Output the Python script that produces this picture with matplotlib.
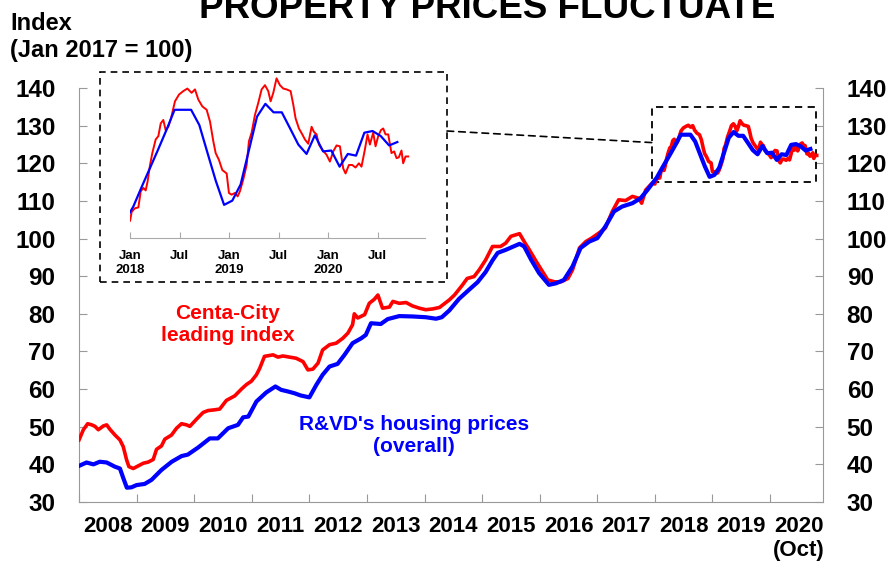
import matplotlib.pyplot as plt
from matplotlib.patches import Rectangle, ConnectionPatch

plt.rcParams['font.family'] = ['Liberation Sans', 'DejaVu Sans']
plt.rcParams['font.weight'] = 'bold'

# Centa-City leading index (weekly)
red_t = [2008.000, 2008.075, 2008.150, 2008.220, 2008.277, 2008.335, 2008.422, 2008.480,
         2008.537, 2008.624, 2008.710, 2008.768, 2008.826, 2008.866, 2008.941, 2009.028,
         2009.115, 2009.200, 2009.288, 2009.346, 2009.432, 2009.490, 2009.606, 2009.693,
         2009.779, 2009.866, 2009.924, 2010.040, 2010.155, 2010.241, 2010.357, 2010.443,
         2010.559, 2010.704, 2010.820, 2010.906, 2010.993, 2011.080, 2011.137, 2011.220,
         2011.370, 2011.455, 2011.540, 2011.660, 2011.770, 2011.890, 2011.975, 2012.060,
         2012.150, 2012.230, 2012.350, 2012.465, 2012.580, 2012.670, 2012.750, 2012.780,
         2012.840, 2012.960, 2013.040, 2013.130, 2013.190, 2013.270, 2013.390, 2013.450,
         2013.560, 2013.680, 2013.790, 2013.910, 2014.020, 2014.140, 2014.260, 2014.430,
         2014.520, 2014.660, 2014.740, 2014.860, 2014.950, 2015.060, 2015.180, 2015.320,
         2015.410, 2015.500, 2015.650, 2015.730, 2015.820, 2015.940, 2016.050, 2016.140,
         2016.260, 2016.370, 2016.490, 2016.570, 2016.690, 2016.800, 2016.910, 2017.030,
         2017.140, 2017.260, 2017.370, 2017.490, 2017.610, 2017.720, 2017.770, 2017.840,
         2017.950,
         2018.000, 2018.017, 2018.050, 2018.084, 2018.108, 2018.135, 2018.158, 2018.178,
         2018.202, 2018.225, 2018.259, 2018.286, 2018.310, 2018.336, 2018.360, 2018.387,
         2018.414, 2018.454, 2018.495, 2018.538, 2018.579, 2018.622, 2018.656, 2018.690,
         2018.730, 2018.774, 2018.808, 2018.841, 2018.865, 2018.898, 2018.932, 2018.976,
         2018.999, 2019.026, 2019.060, 2019.087, 2019.110, 2019.144, 2019.178, 2019.201,
         2019.228, 2019.262, 2019.295, 2019.329, 2019.363, 2019.396, 2019.420, 2019.447,
         2019.480, 2019.514, 2019.548, 2019.581, 2019.622, 2019.649, 2019.672, 2019.706,
         2019.740, 2019.767, 2019.800, 2019.834, 2019.857, 2019.884, 2019.908, 2019.941,
         2019.985, 2020.019, 2020.053, 2020.086, 2020.120, 2020.153, 2020.177, 2020.211,
         2020.244, 2020.278, 2020.312, 2020.338, 2020.372, 2020.399, 2020.423, 2020.456,
         2020.480, 2020.507, 2020.534, 2020.557, 2020.581, 2020.608, 2020.641, 2020.668,
         2020.692, 2020.715, 2020.742, 2020.759, 2020.783, 2020.810]
red_v = [46.5, 49.2, 50.8, 50.5, 50.1, 49.2, 50.2, 50.5,
         49.3, 47.8, 46.5, 44.7, 41.2, 39.4, 38.9, 39.6,
         40.3, 40.6, 41.3, 44.0, 44.9, 46.7, 47.8, 49.6,
         50.8, 50.5, 50.1, 52.0, 53.8, 54.3, 54.5, 54.7,
         57.0, 58.2, 60.0, 61.2, 62.1, 63.8, 65.5, 68.7,
         69.1, 68.5, 68.8, 68.5, 68.2, 67.3, 65.1, 65.3,
         66.9, 70.4, 71.8, 72.2, 73.5, 74.9, 77.1, 80.0,
         78.9, 79.8, 82.8, 83.9, 85.0, 81.5, 81.8, 83.3,
         82.8, 83.0, 82.1, 81.5, 81.1, 81.3, 81.7, 83.7,
         85.0, 87.7, 89.4, 89.9, 91.7, 94.3, 97.9, 97.9,
         98.8, 100.6, 101.3, 99.2, 97.0, 93.9, 91.2, 89.0,
         88.5, 88.5, 89.4, 91.7, 97.5, 99.2, 100.2, 101.5,
         102.8, 107.2, 110.3, 110.1, 111.2, 110.7, 109.4, 112.9,
         114.7,
         114.5, 115.6, 116.0, 116.1, 118.0, 118.4, 118.1, 119.2,
         121.1, 122.5, 124.1, 124.5, 126.0, 126.4, 125.2, 125.6,
         126.6, 128.6, 129.4, 129.8, 130.1, 129.6, 130.0, 128.8,
         128.0, 127.6, 126.2, 123.9, 122.5, 121.7, 120.5, 120.1,
         117.8, 117.6, 117.8, 117.4, 118.0, 119.4, 121.1, 123.9,
         124.9, 127.0, 128.4, 130.0, 130.5, 129.8, 128.6, 129.6,
         131.3, 130.5, 130.1, 130.0, 129.8, 128.2, 126.6, 125.4,
         124.7, 124.1, 123.6, 125.6, 125.0, 124.7, 123.5, 122.9,
         122.3, 121.5, 122.7, 123.4, 123.3, 120.7, 120.1, 121.1,
         121.1, 120.8, 121.3, 120.9, 122.9, 124.7, 123.5, 124.9,
         123.3, 124.5, 125.2, 125.4, 124.7, 124.7, 122.5, 122.7,
         121.9, 122.0, 122.8, 121.3, 122.1, 122.1]

# R&VD housing prices, overall (monthly)
blue_t = [2008.00, 2008.13, 2008.25, 2008.36, 2008.48, 2008.62, 2008.71, 2008.77,
          2008.83, 2008.91, 2009.00, 2009.14, 2009.26, 2009.43, 2009.61, 2009.78,
          2009.89, 2010.07, 2010.27, 2010.41, 2010.59, 2010.76, 2010.85, 2010.94,
          2011.08, 2011.25, 2011.41, 2011.51, 2011.62, 2011.74, 2011.85, 2012.00,
          2012.12, 2012.23, 2012.35, 2012.49, 2012.61, 2012.75, 2012.90, 2012.98,
          2013.07, 2013.24, 2013.36, 2013.56, 2013.79, 2014.02, 2014.20, 2014.30,
          2014.43, 2014.60, 2014.78, 2014.92, 2015.06, 2015.18, 2015.27, 2015.41,
          2015.65, 2015.73, 2015.85, 2015.99, 2016.16, 2016.28, 2016.42, 2016.57,
          2016.71, 2016.86, 2017.00, 2017.14, 2017.29, 2017.43, 2017.61, 2017.75,
          2017.87,
          2018.033, 2018.117, 2018.200, 2018.283, 2018.367, 2018.450, 2018.533, 2018.617,
          2018.700, 2018.783, 2018.867, 2018.950, 2019.033, 2019.117, 2019.200, 2019.283,
          2019.367, 2019.450, 2019.533, 2019.617, 2019.700, 2019.783, 2019.867, 2019.950,
          2020.033, 2020.117, 2020.200, 2020.283, 2020.367, 2020.450, 2020.533, 2020.617,
          2020.700]
blue_v = [39.6, 40.5, 40.0, 40.7, 40.5, 39.4, 38.9, 36.3,
          33.8, 33.9, 34.5, 34.8, 35.9, 38.5, 40.7, 42.2,
          42.6, 44.5, 46.9, 46.9, 49.6, 50.5, 52.5, 52.7,
          56.7, 59.1, 60.7, 59.8, 59.4, 58.9, 58.3, 57.8,
          61.1, 63.8, 66.0, 66.7, 69.1, 72.2, 73.5, 74.4,
          77.5, 77.3, 78.6, 79.4, 79.3, 79.1, 78.7, 79.1,
          80.9, 84.0, 86.5, 88.4, 91.1, 94.2, 96.2, 97.0,
          98.6, 97.9, 94.4, 90.8, 87.7, 88.1, 89.0, 92.6,
          97.5, 99.2, 100.1, 103.2, 107.2, 108.5, 109.4, 110.7,
          112.9,
          116.2, 118.5, 120.7, 122.9, 125.2, 127.6, 127.6, 127.6,
          125.8, 122.5, 119.2, 116.4, 116.9, 118.8, 122.8, 126.8,
          128.3, 127.3, 127.3, 125.4, 123.5, 122.4, 124.6, 122.7,
          122.8, 120.9, 122.4, 122.2, 124.9, 125.1, 124.5, 123.4,
          123.8]

years = list(range(2008, 2021))
year_labels = [str(y) for y in years[:-1]] + ['2020\n(Oct)']
inset_ticks = [2018.0, 2018.5, 2019.0, 2019.5, 2020.0, 2020.5]
inset_labels = ['Jan\n2018', 'Jul', 'Jan\n2019', 'Jul', 'Jan\n2020', 'Jul']

fig = plt.figure(figsize=(8.87, 5.65), dpi=100)
ax = fig.add_axes([0.0891, 0.1115, 0.8388, 0.7327])

ax.plot(red_t, red_v, color='#ff0000', lw=2.6, zorder=3)
ax.plot(blue_t, blue_v, color='#0000ff', lw=3.0, zorder=4)
ax.set_xlim(2008, 2020.92)
ax.set_ylim(30, 140)

ax.set_yticks(range(30, 141, 10))
ax.tick_params(axis='y', direction='in', length=6, color='#999999',
               labelsize=17.5, pad=17, right=True, labelright=True)
for lab in ax.get_yticklabels():
    lab.set_fontweight('bold')

ax.set_xticks(years)
ax.set_xticklabels([])
ax.set_xticks([y + 0.5 for y in years], minor=True)
ax.set_xticklabels(year_labels, minor=True, fontsize=16, fontweight='bold')
ax.tick_params(axis='x', which='major', direction='in', length=6, color='#999999')
ax.tick_params(axis='x', which='minor', length=0, pad=10)

for s in ['left', 'right', 'bottom']:
    ax.spines[s].set_color('#999999')
ax.spines['top'].set_visible(False)

# dashed box around 2018-2020 on the main chart
ax.add_patch(Rectangle((2017.95, 115), 2.84, 20, fill=False, ls=(0, (4, 3)),
                       lw=1.3, color='black', zorder=2))

ax.text(2010.58, 77.1, 'Centa-City\nleading index', color='#ff0000', fontsize=15,
        fontweight='bold', ha='center', va='center', multialignment='center')
ax.text(2013.82, 47.8, "R&VD's housing prices\n(overall)", color='#0000ff', fontsize=15,
        fontweight='bold', ha='center', va='center', multialignment='center')

# inset
ax2 = fig.add_axes([0.1466, 0.5788, 0.3326, 0.2885])
ax2.plot(red_t, red_v, color='#ff0000', lw=1.4)
ax2.plot(blue_t, blue_v, color='#0000ff', lw=1.6)
ax2.set_xlim(2018.0, 2020.98)
ax2.set_ylim(112.5, 131.7)
ax2.set_yticks([])
for s in ['left', 'right', 'top']:
    ax2.spines[s].set_visible(False)
ax2.spines['bottom'].set_color('#aaaaaa')
ax2.set_xticks(inset_ticks)
ax2.set_xticklabels(inset_labels, fontsize=9.5, fontweight='bold', va='top')
ax2.tick_params(axis='x', direction='in', length=4, color='#aaaaaa', pad=9)

fig.add_artist(Rectangle((100 / 887, 1 - 282 / 565), 347 / 887, 210 / 565,
                         transform=fig.transFigure, fill=False, ls=(0, (4, 3)),
                         lw=1.2, color='black'))
fig.add_artist(ConnectionPatch(xyA=(447 / 887, 1 - 131 / 565), coordsA=fig.transFigure,
                               xyB=(2017.95, 125.5), coordsB=ax.transData,
                               ls=(0, (4, 3)), lw=1.2, color='black'))

fig.text(0.549, 1 - 18 / 565, 'PROPERTY PRICES FLUCTUATE', ha='center', va='baseline',
         fontsize=26.5, fontweight='bold')
fig.text(10 / 887, 1 - 30 / 565, 'Index', ha='left', va='baseline', fontsize=17,
         fontweight='bold')
fig.text(10 / 887, 1 - 57 / 565, '(Jan 2017 = 100)', ha='left', va='baseline',
         fontsize=17, fontweight='bold')

fig.savefig('out.png', dpi=100)
